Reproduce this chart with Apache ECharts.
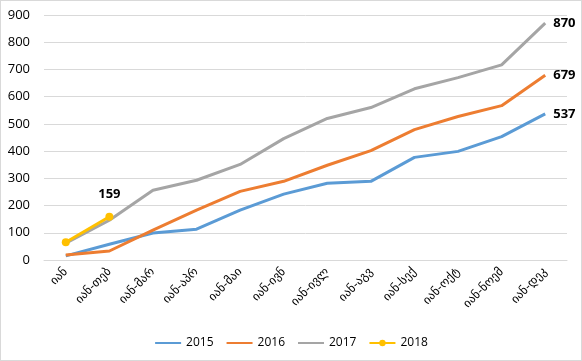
<!DOCTYPE html>
<html><head><meta charset="utf-8">
<script src="https://cdn.jsdelivr.net/npm/echarts@6/dist/echarts.min.js"></script>
<style>html,body{margin:0;padding:0;background:#fff}#c{width:582px;height:361px;box-sizing:border-box;border:1px solid #d9d9d9}</style>
</head><body><div id="c"></div>
<script>
const categories = ["იან","იან-თებ","იან-მარ","იან-აპრ","იან-მაი","იან-ივნ","იან-ივლ","იან-აგვ","იან-სექ","იან-ოქტ","იან-ნოემ","იან-დეკ"];
const s2015 = [15,58,99,113,183,242,282,289,377,399,453,537];
const s2016 = [18,33,110,183,252,289,348,402,479,527,567,679];
const s2017 = [62,146,256,293,351,446,520,560,629,670,717,870];
const s2018 = [65,159];
const yTicks = [0,100,200,300,400,500,600,700,800,900];

const font = "'DejaVu Sans', sans-serif";
const lblFont = "'Open Sans', sans-serif";
function endLbl(){
  return {show:true, distance:8, fontWeight:'bold', fontSize:13, color:'#000', fontFamily:lblFont, formatter: p => String(p.value)};
}
const chart = echarts.init(document.getElementById('c'));
chart.setOption({
  animation:false,
  grid:{left:43, right:14, top:14, bottom:100, containLabel:false},
  legend:{bottom:6, left:'center', itemWidth:26, itemHeight:8, itemGap:12,
    textStyle:{fontSize:12, color:'#000', fontFamily:lblFont},
    data:[{name:'2015', itemStyle:{opacity:0}},{name:'2016', itemStyle:{opacity:0}},{name:'2017', itemStyle:{opacity:0}},{name:'2018'}]},
  xAxis:{type:'category', data:categories, boundaryGap:true,
    axisLine:{lineStyle:{color:'#d9d9d9'}}, axisTick:{show:false},
    axisLabel:{rotate:45, fontSize:12, color:'#000', fontFamily:font, margin:10, interval:0}},
  yAxis:{type:'value', min:0, max:900, interval:100,
    axisLine:{show:false}, axisTick:{show:false},
    splitLine:{lineStyle:{color:'#d9d9d9'}},
    axisLabel:{fontSize:13, color:'#000', fontFamily:lblFont, margin:14,
      formatter: v => yTicks.includes(v) ? String(v) : ''}},
  series:[
    {name:'2015', type:'line', data:s2015, symbol:'none', lineStyle:{width:3, color:'#5b9bd5'}, itemStyle:{color:'#5b9bd5'}, endLabel:endLbl()},
    {name:'2016', type:'line', data:s2016, symbol:'none', lineStyle:{width:3, color:'#ed7d31'}, itemStyle:{color:'#ed7d31'}, endLabel:endLbl()},
    {name:'2017', type:'line', data:s2017, symbol:'none', lineStyle:{width:3, color:'#a5a5a5'}, itemStyle:{color:'#a5a5a5'}, endLabel:endLbl()},
    {name:'2018', type:'line', data:s2018, symbol:'circle', symbolSize:8, showAllSymbol:true, lineStyle:{width:3, color:'#ffc000'}, itemStyle:{color:'#ffc000'},
      label:{show:true, position:'top', distance:12, fontWeight:'bold', fontSize:13, color:'#000', fontFamily:lblFont,
        formatter: p => p.dataIndex === s2018.length-1 ? String(p.value) : ''}}
  ]
});
</script></body></html>
